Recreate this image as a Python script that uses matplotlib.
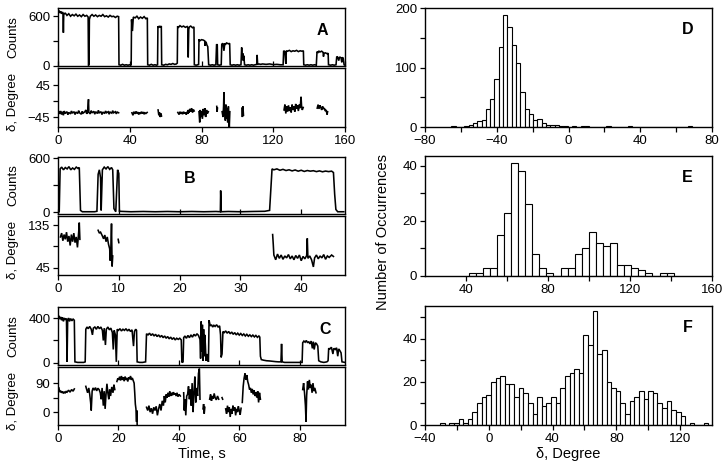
import numpy as np
import matplotlib
matplotlib.use("Agg")
import matplotlib.pyplot as plt
from matplotlib.ticker import MultipleLocator, FixedLocator

plt.rcParams['font.family'] = ['Liberation Sans', 'DejaVu Sans']

# ---------------- data: time traces ----------------
A_counts = [(0,650),(0.5,670),(1,640),(1.5,660),(2,630),(2.5,650),(2.8,640),(3,400),(3.2,620),(4,640),(5,610),(6,630),(7,600),(8,620),(9,605),(10,625),(11,600),(12,615),(13,595),(14,620),(15,600),(16,610),(16.8,590),(17,0),(17.3,20),(17.5,560),(18,600),(19,620),(20,600),(21,615),(22,595),(23,610),(24,600),(25,620),(26,595),(27,605),(28,590),(29,610),(30,595),(31,600),(32,585),(33,600),(33.8,595),(34,10),(35,5),(36,15),(37,5),(38,10),(39,5),(40,10),(40.8,5),(41,560),(41.5,420),(42,590),(43,580),(44,600),(45,570),(46,590),(47,575),(48,595),(49,570),(49.8,580),(50,10),(51,5),(52,15),(53,5),(54,10),(55,5),(55.5,10),(55.7,480),(56,460),(56.5,480),(57,470),(57.6,480),(57.8,10),(59,5),(60,15),(61,10),(62,20),(63,15),(64,25),(65,15),(66,20),(66.5,30),(66.7,480),(67,460),(68,485),(69,470),(70,480),(71,465),(72,475),(72.4,460),(72.6,100),(72.9,440),(73.2,470),(74,480),(75,460),(75.8,470),(76,10),(77,5),(78,10),(78.4,15),(78.6,320),(79,300),(80,315),(81,310),(81.8,300),(82,240),(82.5,290),(83,250),(83.5,230),(84,10),(85,5),(86,10),(87,5),(88,10),(88.4,260),(88.8,250),(89,10),(90,5),(91,10),(91.3,260),(92,270),(92.5,180),(93,270),(93.5,260),(94,275),(95,265),(95.7,270),(96,10),(97,5),(98,10),(99,5),(100,10),(101,5),(102,10),(102.4,220),(102.6,100),(103,150),(103.3,60),(103.6,120),(104,10),(105,5),(106,10),(107,5),(108,10),(109,5),(110,10),(110.8,15),(111,130),(111.3,15),(112,20),(113,15),(114,20),(116,15),(118,20),(120,12),(122,15),(124,10),(125.5,10),(125.8,180),(126.5,170),(127,20),(127.3,180),(128,175),(129,185),(130,170),(131,180),(132,175),(133,185),(134,170),(135,180),(136,175),(136.8,180),(137,10),(138,5),(139,10),(140,5),(141,10),(142,5),(143,10),(144,5),(144.4,170),(145,160),(145.5,175),(146,165),(147,175),(147.8,160),(148,110),(148.3,150),(149,155),(150,145),(150.6,150),(150.8,10),(152,5),(153,10),(154,5),(155,10),(155.4,110),(156,100),(156.5,60),(157,105),(157.8,95),(158.2,40),(158.5,100),(159,90),(159.5,10),(160,5)]

A_delta = [
    [(0.5,-30),(1,-36),(1.5,-28),(2,-38),(2.5,-30),(3,-40),(3.5,-28),(4,-35),(5,-30),(5.5,-38),(6,-32),(7,-36),(7.5,-28),(8,-34),(9,-30),(9.5,-38),(10,-31),(11,-35),(11.5,-27),(12,-33),(13,-37),(13.5,-29),(14,-34),(15,-30),(15.5,-25),(16,-36),(16.5,-30),(17,5),(17.2,-32),(18,-36),(18.5,-27),(19,-33),(20,-29),(20.5,-37),(21,-30),(22,-35),(22.5,-26),(23,-33),(24,-30),(24.5,-38),(25,-31),(26,-35),(26.5,-28),(27,-33),(28,-30),(28.5,-37),(29,-31),(30,-34),(30.5,-27),(31,-33),(32,-30),(32.5,-36),(33,-31),(33.8,-33)],
    [(41.2,-33),(41.8,-40),(42.3,-30),(43,-36),(43.5,-29),(44,-35),(44.5,-31),(45,-38),(45.5,-32),(46,-36),(46.5,-30),(47,-35),(47.5,-31),(48,-37),(48.5,-33),(49,-35),(49.7,-32)],
    [(55.8,-25),(56.2,-40),(56.6,-32),(57,-45),(57.4,-35),(57.7,-42)],
    [(66.8,-32),(67.5,-38),(68,-30),(68.5,-36),(69,-31),(69.5,-37),(70,-30),(70.5,-35),(71,-32),(71.5,-38),(72,-30),(72.4,-36),(72.6,-25),(73,-33),(73.5,-22),(74,-30),(74.5,-20),(75,-32),(75.5,-24),(75.9,-28)],
    [(78.6,-30),(79,-60),(79.3,-25),(79.6,-45),(80,-28),(80.5,-50),(81,-22),(81.5,-40),(82,-20),(82.3,-45),(82.8,-25),(83.3,-35),(83.8,-30)],
    [(88.5,-15),(88.7,-30),(88.9,-20)],
    [(91.5,-30),(92,-45),(92.3,-15),(92.5,25),(92.7,-40),(93,-20),(93.3,-55),(93.6,-10),(94,-50),(94.3,-20),(94.6,-60),(95,-15),(95.3,-50),(95.5,-73),(95.8,-30)],
    [(102.5,-20),(102.8,-45),(103.1,-15),(103.4,-40)],
    [(126,-25),(126.5,-10),(127,-35),(127.5,-15),(128,-30),(128.5,-12),(129,-28),(129.5,-18),(130,-32),(130.5,-10),(131,-25),(131.5,-15),(132,-30),(132.5,-8),(133,-22),(133.5,-12),(134,-28),(134.5,-10),(135,-20),(135.5,12),(135.8,-15),(136.2,-25),(136.7,-18)],
    [(144.5,-20),(145,-10),(145.5,-22),(146,-12),(146.5,-18),(147,-25),(147.5,-15),(148,-22),(148.5,-20),(149,-28),(149.5,-25),(150,-38),(150.3,-30)],
]

B_counts = [(0,0),(0.2,5),(0.35,480),(0.6,500),(0.9,470),(1.2,495),(1.5,480),(1.8,505),(2.1,470),(2.4,490),(2.7,475),(3,500),(3.3,485),(3.5,495),(3.7,20),(4,5),(5,5),(6,5),(6.4,10),(6.6,420),(6.8,470),(7,380),(7.1,20),(7.3,470),(7.6,500),(7.9,480),(8.2,505),(8.5,475),(8.8,495),(9,470),(9.2,40),(9.5,5),(9.8,470),(10,430),(10.1,10),(12,5),(14,8),(16,5),(18,8),(20,5),(22,8),(24,5),(26,8),(26.7,5),(26.75,240),(26.85,5),(28,8),(30,5),(32,8),(34,10),(34.8,20),(35.2,480),(35.5,470),(36,480),(36.5,465),(37,475),(37.5,462),(38,470),(38.5,458),(39,468),(39.5,455),(40,465),(40.5,452),(41,462),(41.5,455),(42,460),(42.5,450),(43,458),(43.5,448),(44,456),(44.5,450),(45,455),(45.3,440),(45.5,200),(45.7,30),(46,5),(47,5)]

B_delta = [
    [(0.4,110),(0.6,118),(0.8,102),(1,115),(1.2,105),(1.4,120),(1.6,100),(1.8,112),(2,92),(2.2,115),(2.4,100),(2.6,118),(2.8,98),(3,110),(3.2,88),(3.4,120),(3.5,140),(3.6,105)],
    [(6.6,124),(6.8,118),(7,120),(7.3,112),(7.5,106),(7.7,114),(7.9,100),(8.1,110),(8.3,95),(8.5,85),(8.6,60),(8.7,90),(8.8,138),(8.9,48),(9,70)],
    [(9.9,105),(10,98)],
    [(35.3,115),(35.4,95),(35.5,72),(35.8,62),(36.1,74),(36.4,65),(36.7,72),(37,63),(37.3,70),(37.6,66),(37.9,73),(38.2,64),(38.5,70),(38.8,62),(39.1,71),(39.4,65),(39.7,72),(40,60),(40.3,69),(40.6,64),(40.9,71),(41,107),(41.1,65),(41.4,70),(41.7,62),(42,47),(42.2,66),(42.5,72),(42.8,64),(43.1,70),(43.4,66),(43.7,73),(44,63),(44.3,70),(44.6,67),(45,72),(45.3,69)],
]

C_counts = [(0,380),(0.3,420),(0.6,390),(0.9,410),(1.2,380),(1.5,405),(1.8,370),(2.1,400),(2.4,385),(2.8,395),(3,10),(3.2,380),(3.5,400),(3.8,370),(4.2,395),(4.6,375),(5,390),(5.4,380),(5.6,10),(6.5,5),(7.5,5),(8.5,5),(9,10),(9.2,300),(9.6,320),(10,305),(10.5,325),(11,300),(11.4,250),(11.7,310),(12.2,320),(12.7,300),(13.2,325),(13.7,305),(14.2,320),(14.7,290),(15,200),(15.3,310),(15.7,160),(16,300),(16.5,320),(17,295),(17.5,310),(18,270),(18.3,120),(18.6,290),(19,250),(19.3,10),(19.6,300),(20,290),(20.5,305),(21,285),(21.5,300),(22,290),(22.5,305),(23,285),(23.5,300),(24,280),(24.5,295),(25,150),(25.3,280),(25.7,300),(26,290),(26.2,10),(27,5),(28,5),(29,10),(29.3,260),(29.8,250),(30.3,265),(30.8,245),(31.3,260),(31.8,240),(32.3,255),(32.8,235),(33.3,250),(33.8,230),(34.3,245),(34.8,225),(35.3,240),(35.8,220),(36.3,235),(36.8,215),(37.3,230),(37.8,210),(38.3,225),(38.8,205),(39.3,220),(39.8,210),(40.3,220),(40.8,205),(41,5),(41.4,10),(41.6,225),(42,240),(42.5,220),(43,245),(43.5,225),(44,250),(44.5,230),(45,255),(45.5,240),(46,260),(46.5,245),(47,210),(47.2,40),(47.4,370),(47.6,100),(47.8,340),(48,20),(48.2,300),(48.4,60),(48.6,250),(48.8,150),(49,20),(49.3,80),(49.6,30),(49.8,10),(50,380),(50.4,330),(50.8,340),(51.2,320),(51.6,335),(52,325),(52.5,340),(53,320),(53.5,330),(53.8,250),(54,50),(54.3,80),(54.6,280),(55,270),(55.5,285),(56,265),(56.5,280),(57,260),(57.5,275),(58,255),(58.5,270),(59,250),(59.5,265),(60,248),(60.5,262),(61,245),(61.5,258),(62,240),(62.5,255),(63,238),(63.5,250),(64,235),(64.5,248),(65,232),(65.5,245),(66,228),(66.5,240),(66.8,230),(67,60),(67.3,30),(68,25),(69,20),(70,18),(71,15),(72,12),(73,10),(73.8,10),(74,170),(74.2,10),(75,5),(76,5),(77,5),(78,5),(79,5),(80,5),(80.8,5),(81,180),(81.4,195),(81.8,185),(82.2,200),(82.6,180),(83,190),(83.4,170),(83.8,195),(84.2,130),(84.5,190),(84.8,120),(85.2,180),(85.6,170),(86,150),(86.3,20),(87,10),(88,5),(89,10),(89.4,20),(89.6,130),(90,125),(90.5,140),(91,80),(91.3,130),(91.8,120),(92.2,135),(92.6,60),(92.9,125),(93.3,110),(93.7,90),(94,10),(95,5)]

C_delta = [
    [(0.3,75),(0.6,62),(0.9,66),(1.2,60),(1.5,64),(1.8,58),(2.1,62),(2.4,60),(2.7,64),(3,62),(3.5,68),(4,62),(4.5,70),(5,65),(5.4,72)],
    [(9.2,80),(9.5,70),(9.8,60),(10.2,75),(10.5,55),(10.8,30),(11,5),(11.3,65),(11.6,75),(12,68),(12.4,76),(12.8,66),(13.2,74),(13.6,70),(14,60),(14.3,40),(14.6,75),(15,20),(15.3,65),(15.6,10),(15.9,55),(16.2,88),(16.5,60),(16.8,40),(17.1,70),(17.4,50),(17.8,78),(18.2,60),(18.5,85),(18.8,70)],
    [(19.5,95),(19.8,105),(20.1,100),(20.4,110),(20.7,98),(21,112),(21.3,100),(21.6,108),(21.9,96),(22.2,110),(22.5,100),(22.8,106),(23.1,95),(23.4,108),(23.7,102),(24,112),(24.3,100),(24.6,106),(24.9,98),(25.2,90),(25.4,60),(25.6,25),(25.8,10),(26,-30),(26.1,5),(26.2,-38)],
    [(29.3,15),(29.7,5),(30.1,20),(30.5,0),(30.9,12),(31.3,-5),(31.7,15),(32.1,5),(32.5,18),(32.9,-10),(33.3,10),(33.7,25),(34.1,5),(34.5,35),(34.9,20),(35.2,50),(35.5,30),(35.8,55),(36.1,45),(36.4,60),(36.7,48),(37,65),(37.3,50),(37.6,60),(37.9,52),(38.2,62),(38.5,55),(38.8,58),(39.1,50),(39.4,60),(39.7,48),(40.1,55),(40.5,50)],
    [(41.6,60),(41.8,5),(42,40),(42.3,-10),(42.6,50),(42.9,55),(43.2,80),(43.5,40),(43.8,70),(44.1,20),(44.4,90),(44.7,0),(45,60),(45.3,110),(45.6,30),(45.9,75),(46.2,50),(46.5,120),(46.8,135),(47,40)],
    [(48,10),(48.2,25),(48.4,-5),(48.6,15)],
    [(50.2,40),(50.5,55),(50.8,35),(51.1,50),(51.4,42),(51.7,58),(52,45),(52.4,38),(52.8,50),(53.2,40)],
    [(54.3,45),(54.5,40)],
    [(55.5,10),(55.8,-5),(56.1,20),(56.4,0),(56.7,15),(57,-15),(57.3,10),(57.6,-5),(57.9,20),(58.2,5),(58.5,15),(58.8,-10),(59.1,10),(59.4,0),(59.7,18),(60,5),(60.3,-8),(60.6,12)],
    [(61,30),(61.3,80),(61.6,105),(61.9,120),(62.2,100),(62.5,115),(62.8,95),(63.1,85),(63.4,70),(63.7,75),(64,60),(64.3,72),(64.6,55),(64.9,68),(65.2,50),(65.5,62),(65.8,45),(66.1,65),(66.4,30),(66.7,60),(67,40)],
    [(81,70),(81.3,90),(81.6,60),(81.9,20),(82.1,-30),(82.3,50),(82.6,95),(82.9,70),(83.2,100),(83.5,75),(83.8,85),(84.1,60),(84.4,90),(84.7,65),(85,75),(85.4,60)],
]

# ---------------- data: histograms ----------------
D_first_center = -64.1
D_bin = 2.4
D_counts = [1,0,0,2,4,7,10,12,31,47,80,135,188,168,138,107,58,30,22,12,14,6,3,4,4,2,1,0,1,0,1,1,0,0,0,0,1,0,0,0,0,1,0,0,0,0,0,0,0,0,0,0,0,0,0,1]

E_first_center = 43.0
E_bin = 3.45
E_counts = [1,1,3,3,15,23,41,38,26,8,3,1,0,3,3,8,10,16,12,11,12,4,4,3,2,1,0,1,1]

F_first_center = -29.1
F_bin = 2.9
F_counts = [1,0,1,1,3,1,3,6,10,13,14,20,22,23,19,19,13,17,15,10,5,13,9,10,13,10,17,23,24,26,24,42,37,53,33,35,20,17,16,10,5,11,13,16,12,16,15,10,8,11,7,6,4,0,1,0,0,1]

# ---------------- figure ----------------
W, H = 727, 467
fig = plt.figure(figsize=(W/100, H/100), dpi=100)

def add_ax(left, top, right, bottom):
    return fig.add_axes([left/W, 1-bottom/H, (right-left)/W, (bottom-top)/H])

TICKFS = 9.5
LABFS = 10.5
YLABFS = 9.5

def style(ax):
    for s in ax.spines.values():
        s.set_linewidth(1.0)
    ax.tick_params(direction='out', length=3.5, width=0.9, labelsize=TICKFS, pad=2)
    ax.tick_params(which='minor', direction='out', length=3.5, width=0.9)

def plot_trace(ax, pts, lw=1.15):
    t = [p[0] for p in pts]; v = [p[1] for p in pts]
    ax.plot(t, v, color='black', lw=lw, solid_joinstyle='miter')

left_specs = [
    dict(cbox=(58, 8, 345, 66), dbox=(58, 68, 345, 127), xlim=(0, 160), cyl=(-5, 700), dyl=(-73, 93),
         xt=[0, 40, 80, 120, 160], ct=[0, 600], cm=[300], dt=[-45, 45], dm=[0],
         counts=A_counts, delta=A_delta, letter='A', lpos=(0.92, 0.62)),
    dict(cbox=(58, 157, 345, 214), dbox=(58, 216, 345, 275), xlim=(0, 47.2), cyl=(-20, 612), dyl=(30, 154),
         xt=[0, 10, 20, 30, 40], ct=[0, 600], cm=[300], dt=[45, 135], dm=[90],
         counts=B_counts, delta=B_delta, letter='B', lpos=(0.46, 0.63)),
    dict(cbox=(58, 307, 345, 365), dbox=(58, 367, 345, 425), xlim=(0, 95), cyl=(-18, 498), dyl=(-40, 140),
         xt=[0, 20, 40, 60, 80], ct=[0, 400], cm=[200], dt=[0, 90], dm=[45],
         counts=C_counts, delta=C_delta, letter='C', lpos=(0.93, 0.62)),
]

for sp in left_specs:
    axc = add_ax(*sp['cbox'])
    axd = add_ax(*sp['dbox'])
    for ax in (axc, axd):
        style(ax)
        ax.set_xlim(*sp['xlim'])
        ax.set_xticks(sp['xt'])
    plot_trace(axc, sp['counts'])
    for seg in sp['delta']:
        plot_trace(axd, seg)
    axc.set_ylim(*sp['cyl'])
    axd.set_ylim(*sp['dyl'])
    axc.set_yticks(sp['ct'])
    axc.yaxis.set_minor_locator(FixedLocator(sp['cm']))
    axd.set_yticks(sp['dt'])
    axd.yaxis.set_minor_locator(FixedLocator(sp['dm']))
    axc.tick_params(axis='x', labelbottom=False, direction='in')
    axc.set_ylabel('Counts', fontsize=YLABFS)
    axd.set_ylabel('δ, Degree', fontsize=YLABFS)
    axc.yaxis.set_label_coords(-0.135, 0.5)
    axd.yaxis.set_label_coords(-0.135, 0.42)
    axc.text(sp['lpos'][0], sp['lpos'][1], sp['letter'], transform=axc.transAxes,
             fontsize=11.5, fontweight='bold', ha='center', va='center')
    last_delta = axd

last_delta.set_xlabel('Time, s', fontsize=LABFS, labelpad=2)

hist_specs = [
    dict(box=(425, 8, 712, 127), first=D_first_center, bw=D_bin, counts=D_counts, xlim=(-80, 80), ylim=(0, 200),
         xt=[-80, -40, 0, 40, 80], xm=[-60, -20, 20, 60], yt=[0, 100, 200], ym=[50, 150], letter='D'),
    dict(box=(425, 156, 712, 276), first=E_first_center, bw=E_bin, counts=E_counts, xlim=(20, 160), ylim=(0, 43.6),
         xt=[40, 80, 120, 160], xm=[60, 100, 140], yt=[0, 20, 40], ym=[10, 30], letter='E'),
    dict(box=(425, 306, 712, 425), first=F_first_center, bw=F_bin, counts=F_counts, xlim=(-40, 140), ylim=(0, 55.3),
         xt=[-40, 0, 40, 80, 120], xm=[-20, 20, 60, 100], yt=[0, 20, 40], ym=[10, 30, 50], letter='F'),
]

for hs in hist_specs:
    ax = add_ax(*hs['box'])
    style(ax)
    n = len(hs['counts'])
    centers = [hs['first'] + i*hs['bw'] for i in range(n)]
    ax.bar(centers, hs['counts'], width=hs['bw'], color='white', edgecolor='black', linewidth=0.8, align='center')
    ax.set_xlim(*hs['xlim'])
    ax.set_ylim(*hs['ylim'])
    ax.set_xticks(hs['xt'])
    ax.xaxis.set_minor_locator(FixedLocator(hs['xm']))
    ax.set_yticks(hs['yt'])
    ax.yaxis.set_minor_locator(FixedLocator(hs['ym']))
    ax.text(0.915, 0.82, hs['letter'], transform=ax.transAxes, fontsize=11.5, fontweight='bold',
            ha='center', va='center')
    last_hist = ax

last_hist.set_xlabel('δ, Degree', fontsize=LABFS, labelpad=2)
fig.text(383/W, 1-232/H, 'Number of Occurrences', rotation=90, ha='center', va='center', fontsize=LABFS)

fig.savefig('out.png', dpi=100)
